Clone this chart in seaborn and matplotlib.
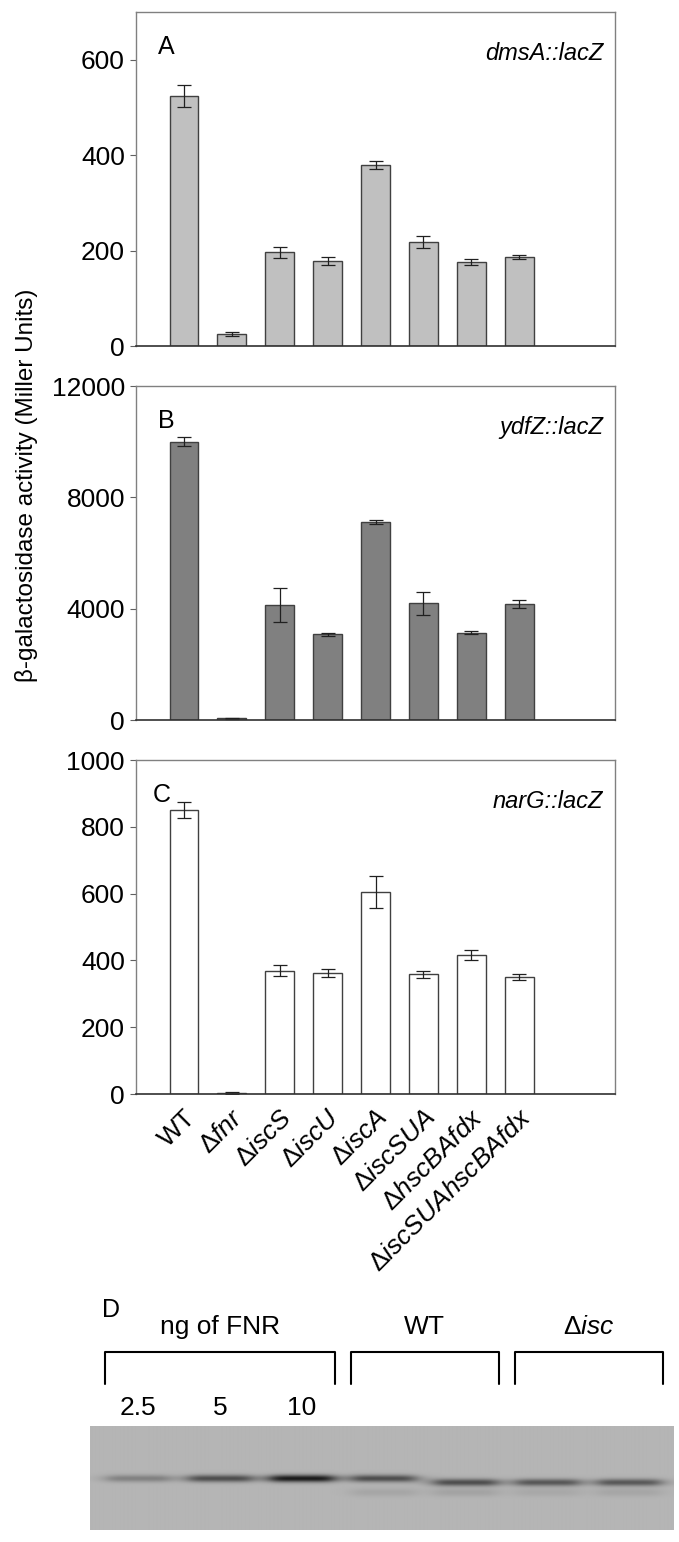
import numpy as np
import matplotlib
matplotlib.use("Agg")
import matplotlib.pyplot as plt
import seaborn as sns

# strains on the x axis (same for all three reporter panels)
strains = ["WT", "fnr", "iscS", "iscU", "iscA", "iscSUA", "hscBAfdx", "iscSUAhscBAfdx"]
strain_labels = ["WT", "Δ$\\mathit{fnr}$", "Δ$\\mathit{iscS}$", "Δ$\\mathit{iscU}$",
                 "Δ$\\mathit{iscA}$", "Δ$\\mathit{iscSUA}$", "Δ$\\mathit{hscBAfdx}$",
                 "Δ$\\mathit{iscSUAhscBAfdx}$"]

# beta-galactosidase activity (Miller units), mean and error
dmsA_mean = [524, 26, 196, 178, 379, 218, 176, 187]
dmsA_err = [24, 4, 11, 8, 9, 12, 6, 4]
ydfZ_mean = [10000, 60, 4120, 3080, 7100, 4190, 3140, 4170]
ydfZ_err = [150, 20, 610, 50, 70, 400, 50, 130]
narG_mean = [850, 3, 369, 362, 605, 358, 416, 350]
narG_err = [23, 2, 17, 11, 48, 11, 16, 10]

panel_letters = ["A", "B", "C"]
reporters = ["dmsA::lacZ", "ydfZ::lacZ", "narG::lacZ"]
panel_ymax = [700, 12000, 1000]
panel_ticks = [[0, 200, 400, 600], [0, 4000, 8000, 12000], [0, 200, 400, 600, 800, 1000]]
panel_colors = ["#c0c0c0", "#808080", "#ffffff"]

# western blot (panel D): lanes, band darkness, band row (px from blot top)
blot_lanes = [0, 1, 2, 3, 4, 5, 6]
band_strength = [0.20, 0.40, 0.60, 0.40, 0.40, 0.36, 0.36]
band_row = [52, 52, 52, 52, 56, 56, 56]
lower_strength = [0.0, 0.0, 0.0, 0.06, 0.07, 0.05, 0.06]
conc_labels = ["2.5", "5", "10"]
groups = ["ng of FNR", "WT", "Δ$\\mathit{isc}$"]
group_first = [0, 3, 5]
group_last = [2, 4, 6]

sns.set_style("white")
plt.rcParams["font.family"] = ["Liberation Sans", "DejaVu Sans"]
plt.rcParams["mathtext.fontset"] = "custom"
plt.rcParams["mathtext.rm"] = "Liberation Sans"
plt.rcParams["mathtext.it"] = "Liberation Sans:italic"
plt.rcParams["text.color"] = "black"
plt.rcParams["xtick.color"] = "black"
plt.rcParams["ytick.color"] = "black"
plt.rcParams["axes.labelcolor"] = "black"

W, H = 679, 1542
fig = plt.figure(figsize=(W / 100, H / 100), dpi=100)

means = [dmsA_mean, ydfZ_mean, narG_mean]
errs = [dmsA_err, ydfZ_err, narG_err]
tops = [12, 386, 760]
for i in range(3):
    top = tops[i]
    ax = fig.add_axes([136 / W, 1 - (top + 334) / H, 479 / W, 334 / H])
    sns.barplot(x=strains, y=means[i], order=strains, color=panel_colors[i],
                saturation=1, edgecolor="#404040", linewidth=1.0, width=0.6, ax=ax)
    ax.errorbar(np.arange(len(strains)), means[i], yerr=errs[i], fmt="none",
                ecolor="#202020", elinewidth=0.9, capsize=5, capthick=0.9)
    ax.set_xlim(-1, 9)
    ax.set_ylim(0, panel_ymax[i])
    ax.set_yticks(panel_ticks[i])
    ax.tick_params(axis="y", labelsize=19, length=4, width=0.8, color="#606060",
                   left=True, pad=4, direction="out")
    ax.tick_params(axis="x", bottom=False, length=0)
    for side in ["top", "right", "left"]:
        ax.spines[side].set_color("#808080")
        ax.spines[side].set_linewidth(1.0)
    ax.spines["bottom"].set_color("#303030")
    ax.spines["bottom"].set_linewidth(1.2)
    ax.text(0.045 if i < 2 else 0.035, 0.93, panel_letters[i], transform=ax.transAxes,
            fontsize=18, ha="left", va="top")
    ax.text(0.975, 0.91, reporters[i], transform=ax.transAxes, fontsize=17,
            style="italic", ha="right", va="top")
    ax.set_xlabel("")
    if i < 2:
        ax.set_xticklabels([])
    else:
        ax.set_xticks(range(len(strains)))
        ax.set_xticklabels(strain_labels, rotation=45, ha="right", va="top",
                           rotation_mode="anchor", fontsize=19)
        ax.tick_params(axis="x", pad=8)

fig.text(27 / W, 1 - 485 / H, "β-galactosidase activity (Miller Units)",
         rotation=90, ha="center", va="center", fontsize=17.5)

# panel D: blot image
xlo, xhi = -0.585, 6.54
ny, nx = 104, 600
xs = np.linspace(xlo, xhi, nx)
ys = np.arange(ny)
img = np.full((ny, nx), 0.71)
for lane, s, row, low in zip(blot_lanes, band_strength, band_row, lower_strength):
    across = 1 / (1 + ((xs - lane) / 0.40) ** 6)
    img -= s * np.outer(np.exp(-0.5 * ((ys - row) / 2.6) ** 2), across)
    img -= low * np.outer(np.exp(-0.5 * ((ys - 66) / 3.0) ** 2), across)
axb = fig.add_axes([90 / W, 1 - 1530 / H, 584 / W, 104 / H])
axb.imshow(img, cmap="gray", vmin=0, vmax=1, extent=(xlo, xhi, ny, 0),
           aspect="auto", interpolation="bilinear")
axb.set_xlim(xlo, xhi)
axb.axis("off")

axh = fig.add_axes([90 / W, 1 - 1426 / H, 584 / W, 136 / H])
axh.set_xlim(xlo, xhi)
axh.set_ylim(136, 0)
axh.axis("off")
axh.text(-0.44, 20, "D", fontsize=18, ha="left", va="center")
for name, a, b in zip(groups, group_first, group_last):
    x0, x1 = a - 0.40, b + 0.40
    axh.plot([x0, x0, x1, x1], [94, 62, 62, 94], color="black", lw=1.5)
    axh.text((x0 + x1) / 2, 37, name, fontsize=19, ha="center", va="center")
for lane, lab in zip(blot_lanes, conc_labels):
    axh.text(lane, 118, lab, fontsize=19, ha="center", va="center")

fig.savefig("out.png", dpi=100)
